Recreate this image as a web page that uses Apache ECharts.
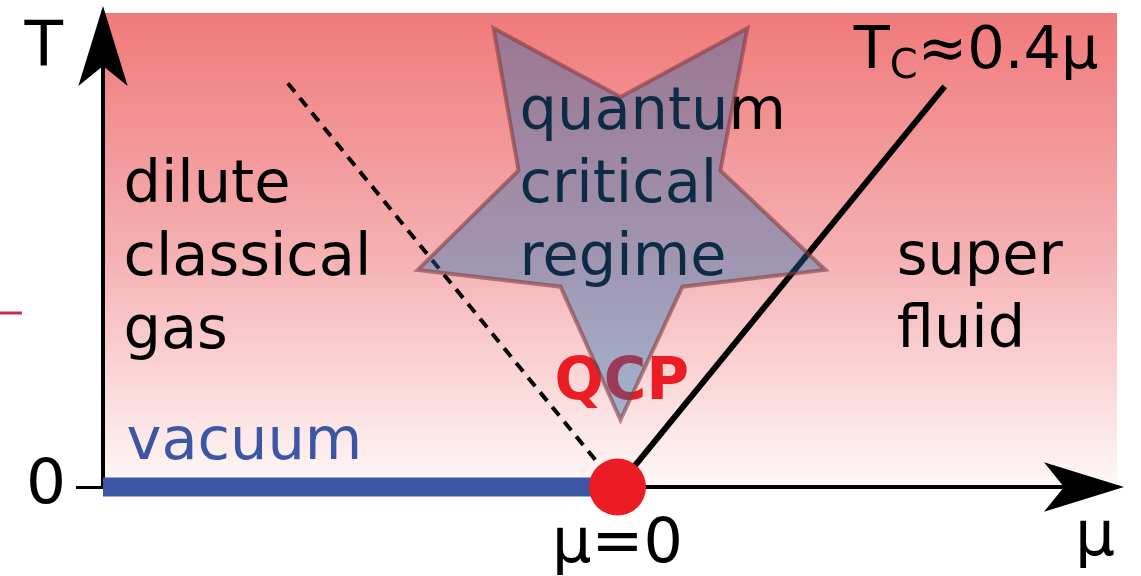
<!DOCTYPE html>
<html>
<head>
<meta charset="utf-8">
<script src="https://cdn.jsdelivr.net/npm/echarts@6/dist/echarts.min.js"></script>
<style>
  html, body { margin: 0; padding: 0; background: #ffffff; }
  #chart { width: 1141px; height: 576px; }
</style>
</head>
<body>
<div id="chart"></div>
<script>
// Phase diagram of a Bose gas near its quantum critical point (μ = 0, T = 0)

// axis ranges (chemical potential μ, temperature T)
const muRange = [-1.03, 1.0];
const tRange = [0, 0.31];

// tick labels
const tTickValues = [0];
const tTickLabels = ['0'];
const muTickValues = [0];
const muTickLabels = ['μ=0'];

// superfluid transition, Tc ≈ 0.4 μ
const tcLine = [[0.03, 0.012], [0.655, 0.262]];
// crossover into the dilute classical gas (dashed)
const crossoverLine = [[-0.66, 0.264], [-0.03, 0.012]];
// vacuum: T = 0 for μ < 0
const vacuumLine = [[-1.03, 0], [0, 0]];
// quantum critical point
const qcpPoint = [[0, 0]];
// quantum critical regime, outlined as a star (μ, T)
const starVertices = [
  [-0.248, 0.300], [0.006, 0.255], [0.260, 0.300], [0.206, 0.207],
  [0.416, 0.142], [0.130, 0.131], [0.006, 0.044], [-0.114, 0.131],
  [-0.400, 0.142], [-0.198, 0.207]
];

// region names and where they sit in the (μ, T) plane
const regionNames = ['dilute\nclassical\ngas', 'quantum\ncritical\nregime', 'super\nfluid', 'vacuum', 'QCP', 'Tc'];
const regionAnchors = [[-0.989, 0.1485], [-0.196, 0.1962], [0.559, 0.1252], [-0.983, 0.0285], [-0.126, 0.0672], [0.473, 0.284]];

const FONT = 'DejaVu Sans';

const labelOverrides = {
  'vacuum': { color: '#3c56a6' },
  'QCP': { color: '#ec1c24', fontWeight: 'bold', fontSize: 58 },
  'Tc': {
    formatter: '{big|T}{sub|C}{big|≈0.4μ}',
    rich: {
      big: { fontSize: 59, lineHeight: 70, color: '#000', fontFamily: FONT },
      sub: { fontSize: 40, lineHeight: 36, color: '#000', fontFamily: FONT, verticalAlign: 'bottom' }
    }
  }
};

const labelData = regionNames.map((name, i) => {
  const item = { name: name, value: regionAnchors[i] };
  if (labelOverrides[name]) item.label = labelOverrides[name];
  return item;
});

const arrowHead = {
  symbol: ['none', 'arrow'],
  symbolSize: [37, 80],
  symbolOffset: [0, 7]
};

const chart = echarts.init(document.getElementById('chart'), null, { renderer: 'canvas' });

chart.setOption({
  animation: false,
  textStyle: { fontFamily: FONT },
  grid: {
    left: 103, right: 24, top: 13, bottom: 89,
    show: true,
    borderWidth: 0,
    outerBoundsMode: 'none',
    backgroundColor: {
      type: 'linear', x: 0, y: 0, x2: 0, y2: 1,
      colorStops: [
        { offset: 0, color: '#f07a7b' },
        { offset: 0.5, color: '#f5afb1' },
        { offset: 1, color: '#fff8f8' }
      ]
    }
  },
  graphic: [{
    type: 'line',
    shape: { x1: 0, y1: 313, x2: 22, y2: 313 },
    style: { stroke: '#c4304c', lineWidth: 3 }
  }],
  xAxis: {
    type: 'value',
    min: muRange[0], max: muRange[1],
    name: 'μ',
    nameLocation: 'end',
    nameGap: -22,
    nameMoveOverlap: false,
    nameTextStyle: { fontSize: 63, color: '#000', align: 'center', verticalAlign: 'top', padding: [20, 0, 0, 0], fontFamily: FONT },
    axisLine: Object.assign({
      onZero: false,
      lineStyle: { color: '#000', width: 4 }
    }, arrowHead),
    axisTick: { show: false },
    splitLine: { show: false },
    axisLabel: {
      customValues: muTickValues,
      formatter: (v) => muTickLabels[muTickValues.indexOf(v)] || '',
      fontSize: 62, color: '#000', margin: 28, fontFamily: FONT
    }
  },
  yAxis: {
    type: 'value',
    min: tRange[0], max: tRange[1],
    name: 'T',
    nameLocation: 'end',
    nameGap: -36,
    nameMoveOverlap: false,
    nameTextStyle: { fontSize: 63, color: '#000', align: 'right', verticalAlign: 'middle', padding: [0, 40, 0, 0], fontFamily: FONT },
    axisLine: Object.assign({
      onZero: false,
      lineStyle: { color: '#000', width: 4 }
    }, arrowHead),
    axisTick: {
      customValues: tTickValues,
      length: 27,
      lineStyle: { color: '#000', width: 3 }
    },
    splitLine: { show: false },
    axisLabel: {
      customValues: tTickValues,
      formatter: (v) => tTickLabels[tTickValues.indexOf(v)] || '',
      fontSize: 63, color: '#000', margin: 37, fontFamily: FONT
    }
  },
  series: [
    {
      name: 'vacuum', type: 'line', data: vacuumLine, clip: false, z: 2,
      showSymbol: false, symbol: 'none', silent: true,
      lineStyle: { color: '#3c56a6', width: 19, cap: 'butt' }
    },
    {
      name: 'crossover', type: 'line', data: crossoverLine, z: 2,
      showSymbol: false, symbol: 'none', silent: true,
      lineStyle: { color: '#000', width: 4, type: [11, 8], cap: 'butt' }
    },
    {
      name: 'Tc', type: 'line', data: tcLine, z: 2,
      showSymbol: false, symbol: 'none', silent: true,
      lineStyle: { color: '#000', width: 6, cap: 'butt' }
    },
    {
      name: 'labels', type: 'scatter', data: labelData, z: 3,
      symbolSize: 0, silent: true,
      itemStyle: { opacity: 1 },
      label: {
        show: true, position: 'right', distance: 0,
        formatter: '{b}', align: 'left', verticalAlign: 'middle',
        fontSize: 59, lineHeight: 73, color: '#000', fontFamily: FONT
      }
    },
    {
      name: 'quantum critical regime', type: 'custom', data: starVertices, z: 5, silent: true,
      encode: { x: 0, y: 1 },
      renderItem: (params, api) => {
        if (params.dataIndex !== 0) return null;
        const pts = starVertices.map((v) => api.coord(v));
        return {
          type: 'polygon',
          shape: { points: pts },
          style: { fill: 'rgba(32,107,172,0.4)', stroke: 'rgba(130,60,65,0.6)', lineWidth: 4, lineJoin: 'miter' }
        };
      }
    },
    {
      name: 'QCP', type: 'scatter', data: qcpPoint, z: 6, silent: true,
      symbol: 'circle', symbolSize: 57,
      itemStyle: { color: '#ec1c24', opacity: 1 }
    }
  ]
});
</script>
</body>
</html>
